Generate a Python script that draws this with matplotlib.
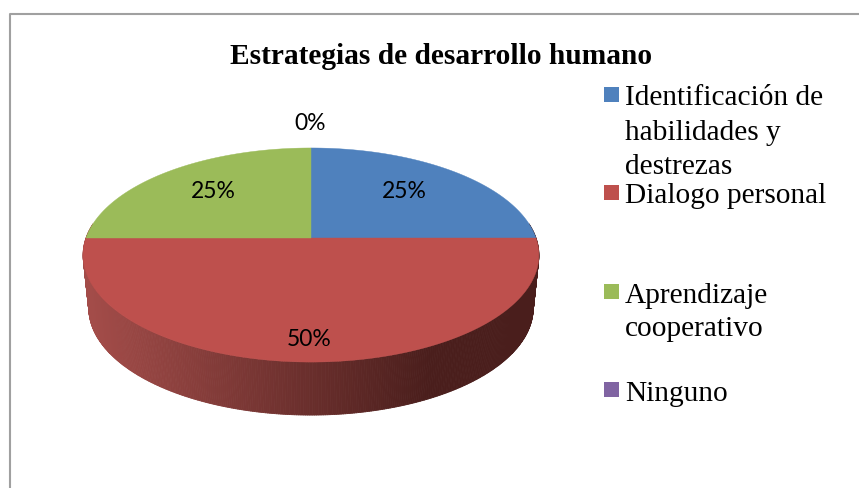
# -*- coding: utf-8 -*-
import numpy as np
from matplotlib import pyplot as plt
from matplotlib.collections import PolyCollection
from matplotlib.patches import Polygon, Rectangle

titulo = 'Estrategias de desarrollo humano'
categorias = ['Identificación de\nhabilidades y\ndestrezas', 'Dialogo personal',
              'Aprendizaje\ncooperativo', 'Ninguno']
valores = [25, 50, 25, 0]
colores = ['#4F81BD', '#BE504D', '#9BBB59', '#8064A2']

W, H = 859, 488
SERIF = 'Liberation Serif'
CX, CY = 311, 238    # vertice del pastel
K, A, C = 225, -66.5, 0.159   # proyeccion del circulo (perspectiva)
DEPTH = 53


def proyecta(theta):
    # theta en radianes, horario desde arriba
    u = np.sin(theta)
    v = np.cos(theta)
    d = C * v + 1
    return CX + K * u / d, (A * v + CY) / d


fig = plt.figure(figsize=(W / 100, H / 100), dpi=100)
ax = fig.add_axes([0, 0, 1, 1])
ax.set_xlim(0, W)
ax.set_ylim(H, 0)
ax.axis('off')

# marco del grafico (sin lado derecho ni inferior en el recorte)
ax.plot([9.5, 9.5, W], [H, 13.5, 13.5], color='#A0A0A0', lw=1.5)

# pared lateral con degradado (solo la mitad de abajo se ve)
t = np.radians(np.linspace(82, 278, 400))[::-1]
xs, ys = proyecta(t)
xb = 311 + (xs - 311) * 0.975
yb = ys + DEPTH
polys = []
cols = []
c0 = np.array([163, 76, 73]) / 255
c1 = np.array([74, 30, 28]) / 255
for i in range(len(t) - 1):
    polys.append([(xs[i], ys[i]), (xs[i + 1], ys[i + 1]), (xb[i + 1], yb[i + 1]), (xb[i], yb[i])])
    f = min(max((xs[i] - 90) / 340, 0), 1)
    cols.append(c0 * (1 - f) + c1 * f)
ax.add_collection(PolyCollection(polys, facecolors=cols, edgecolors=cols, linewidths=0.6))

# sectores, tapa superior
ini = 0
for val, col in zip(valores, colores):
    if val > 0:
        th = np.radians(np.linspace(ini, ini + val * 3.6, 200))
        x, y = proyecta(th)
        pts = [(CX, CY)] + list(zip(x, y))
        ax.add_patch(Polygon(pts, closed=True, facecolor=col, edgecolor=col, lw=0.3))
    ini += val * 3.6

# etiquetas de datos
pos_etiq = [(404, 192), (309, 340), (213, 192), (310, 124)]
for val, (px, py) in zip(valores, pos_etiq):
    ax.text(px, py, '%d%%' % val, family='Lato', fontsize=16.5, color='black',
            ha='center', va='center')

ax.text(441.5, 56, titulo, family=SERIF, fontsize=21.2, fontweight='bold',
        ha='center', va='center', color='black')

# leyenda
cuadros_y = [87, 185, 284, 382]
lineas_y = [[105, 140, 174], [203], [303, 336], [401]]
for cat, col, qy, base in zip(categorias, colores, cuadros_y, lineas_y):
    ax.add_patch(Rectangle((604, qy), 15, 15, facecolor=col, edgecolor='none'))
    for linea, by in zip(cat.split('\n'), base):
        ax.text(625, by, linea, family=SERIF, fontsize=21.2, color='black',
                ha='left', va='baseline')

fig.savefig('out.png', dpi=100)
